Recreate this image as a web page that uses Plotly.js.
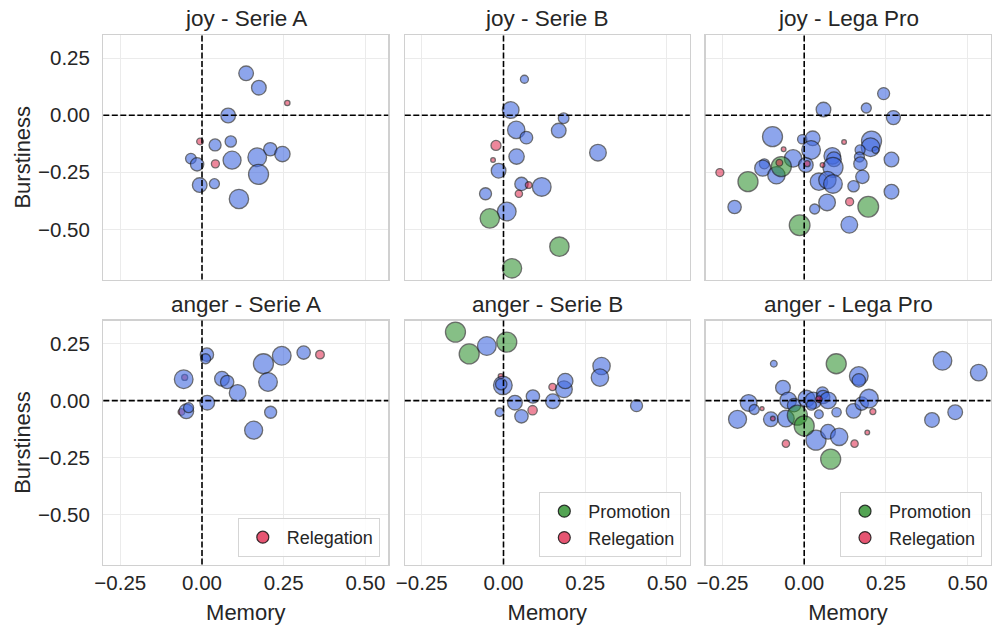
<!DOCTYPE html>
<html><head><meta charset="utf-8">
<script src="https://cdn.plot.ly/plotly-3.0.1.min.js"></script>
<style>html,body{margin:0;padding:0;background:#fff}#chart{width:992px;height:626px}</style>
</head><body><div id="chart"></div>
<script>
// ---- Data (Memory = x, Burstiness = y, volume = bubble size, group: S=stay, P=promotion, R=relegation)
const panelTitles = ["joy - Serie A", "joy - Serie B", "joy - Lega Pro", "anger - Serie A", "anger - Serie B", "anger - Lega Pro"];
const xTicks = [-0.25, 0, 0.25, 0.5];
const yTicks = [0.25, 0, -0.25, -0.5];

const joySerieA_memory = [0.135,0.174,0.080,0.040,0.088,0.209,0.246,0.169,0.092,-0.034,-0.015,0.173,-0.007,0.038,0.113,0.261,-0.006,0.041];
const joySerieA_burst  = [0.184,0.121,-0.001,-0.130,-0.115,-0.149,-0.170,-0.184,-0.197,-0.190,-0.215,-0.259,-0.306,-0.300,-0.367,0.054,-0.115,-0.213];
const joySerieA_volume = [22,22,22,18,17,20,23,28,27,16,20,30,22,15,29,8,10,12];
const joySerieA_group  = ["S","S","S","S","S","S","S","S","S","S","S","S","S","S","S","R","R","R"];

const joySerieB_memory = [0.064,0.022,0.184,0.039,0.070,0.169,0.289,0.040,-0.015,0.055,-0.023,-0.032,0.077,0.117,0.047,-0.055,0.010,-0.042,0.171,0.026];
const joySerieB_burst  = [0.158,0.023,-0.013,-0.064,-0.098,-0.067,-0.164,-0.181,-0.243,-0.301,-0.132,-0.196,-0.306,-0.314,-0.344,-0.344,-0.422,-0.452,-0.576,-0.671];
const joySerieB_volume = [12,25,16,26,19,22,25,23,22,20,15,7,10,28,11,18,28,29,29,29];
const joySerieB_group  = ["S","S","S","S","S","S","S","S","S","S","R","R","R","S","R","S","S","P","P","P"];

const joyLegaPro_memory = [0.243,0.190,0.059,0.273,-0.097,-0.006,0.026,0.021,0.206,0.203,0.171,0.218,-0.034,-0.122,-0.127,-0.085,0.005,0.086,0.091,0.088,0.169,0.172,0.267,0.178,0.151,0.045,0.071,0.088,-0.213,0.032,0.070,0.267,0.138,-0.070,-0.172,0.196,-0.014,-0.063,0.122,-0.076,0.009,0.056,-0.258,0.139];
const joyLegaPro_burst  = [0.095,0.032,0.025,-0.010,-0.094,-0.105,-0.101,-0.152,-0.113,-0.140,-0.152,-0.152,-0.189,-0.213,-0.232,-0.263,-0.218,-0.178,-0.193,-0.228,-0.183,-0.212,-0.194,-0.270,-0.311,-0.291,-0.284,-0.301,-0.402,-0.411,-0.382,-0.335,-0.480,-0.225,-0.291,-0.401,-0.482,-0.149,-0.117,-0.208,-0.212,-0.218,-0.251,-0.379];
const joyLegaPro_volume = [18,15,22,21,30,14,22,28,30,28,15,10,26,15,24,26,22,25,22,30,15,20,22,20,17,26,26,28,20,15,25,22,25,30,30,31,31,7,7,10,9,7,12,12];
const joyLegaPro_group  = ["S","S","S","S","S","S","S","S","S","S","S","S","S","S","S","S","S","S","S","S","S","S","S","S","S","S","S","S","S","S","S","S","S","P","P","P","P","R","R","R","R","R","R","R"];

const angerSerieA_memory = [-0.053,-0.063,0.015,0.011,-0.056,0.061,0.077,0.109,0.188,0.244,0.311,0.202,0.016,-0.048,-0.041,0.210,0.158,0.361];
const angerSerieA_burst  = [0.102,-0.050,0.202,0.184,0.094,0.096,0.082,0.034,0.162,0.197,0.211,0.082,-0.009,-0.047,-0.031,-0.051,-0.130,0.202];
const angerSerieA_volume = [9,10,20,15,28,22,20,25,30,28,20,28,22,22,15,18,27,13];
const angerSerieA_group  = ["R","R","S","S","S","S","S","S","S","S","S","S","S","S","S","S","S","R"];

const angerSerieB_memory = [-0.147,-0.105,0.010,-0.051,-0.008,0.150,-0.002,-0.007,0.035,-0.012,0.055,0.090,0.151,0.185,0.189,0.300,0.295,0.407,0.089];
const angerSerieB_burst  = [0.301,0.205,0.257,0.240,0.107,0.060,0.067,0.072,-0.009,-0.051,-0.069,0.018,-0.003,0.050,0.086,0.152,0.101,-0.022,-0.042];
const angerSerieB_volume = [30,30,30,28,8,11,28,17,22,13,20,20,22,25,23,26,26,18,14];
const angerSerieB_group  = ["P","P","P","S","R","R","S","S","S","S","S","S","S","S","S","S","S","S","R"];

const angerLegaPro_memory = [-0.093,0.167,0.167,0.423,0.534,-0.065,-0.170,-0.153,-0.204,-0.102,-0.056,-0.049,-0.031,0.007,0.028,0.056,0.058,0.073,0.022,0.045,0.099,0.036,0.073,0.107,0.151,0.176,0.198,0.391,0.462,0.098,-0.021,0.000,0.081,-0.129,-0.096,0.045,0.210,0.193,0.154,-0.056];
const angerLegaPro_burst  = [0.162,0.108,0.089,0.175,0.123,0.057,-0.010,-0.039,-0.082,-0.082,-0.079,0.001,-0.020,0.009,0.001,0.034,0.016,0.001,-0.020,-0.060,-0.051,-0.174,-0.137,-0.159,-0.045,-0.013,0.009,-0.085,-0.051,0.162,-0.064,-0.111,-0.257,-0.035,-0.079,0.006,-0.048,-0.140,-0.189,-0.189];
const angerLegaPro_volume = [10,28,20,28,25,22,25,15,27,22,25,25,20,25,25,18,20,25,15,13,14,30,22,26,22,20,28,22,22,30,30,30,30,6,7,10,9,7,11,11];
const angerLegaPro_group  = ["S","S","S","S","S","S","S","S","S","S","S","S","S","S","S","S","S","S","S","S","S","S","S","S","S","S","S","S","S","P","P","P","P","R","R","R","R","R","R","R"];

const groupNames = {P: "Promotion", R: "Relegation"};
const panelLegendGroups = [[], [], [], ["R"], ["P", "R"], ["P", "R"]];

// ---- Build
const panels = [
  [joySerieA_memory, joySerieA_burst, joySerieA_volume, joySerieA_group],
  [joySerieB_memory, joySerieB_burst, joySerieB_volume, joySerieB_group],
  [joyLegaPro_memory, joyLegaPro_burst, joyLegaPro_volume, joyLegaPro_group],
  [angerSerieA_memory, angerSerieA_burst, angerSerieA_volume, angerSerieA_group],
  [angerSerieB_memory, angerSerieB_burst, angerSerieB_volume, angerSerieB_group],
  [angerLegaPro_memory, angerLegaPro_burst, angerLegaPro_volume, angerLegaPro_group]
];
const COLORS = {S: "rgba(65,105,225,0.85)", P: "rgba(34,139,34,0.78)", R: "rgba(220,20,60,0.72)"};
const EDGE = "rgba(20,20,20,0.85)";
const W = 992, H = 626;
const colPx = [[103.3, 388.3], [404.8, 689.8], [705.5, 990.5]];
const rowPx = [[35, 279.5], [320.5, 564.5]];
const xRange = [-0.302, 0.570], yRange = [-0.72, 0.352];
const FONT = "Liberation Sans, Arial, sans-serif";
const TXT = "#262626";

const data = [], shapes = [], annotations = [];
const layout = {
  width: W, height: H, margin: {l: 0, r: 0, t: 0, b: 0},
  paper_bgcolor: "#fff", plot_bgcolor: "#fff",
  font: {family: FONT, color: TXT}, showlegend: true
};
const legendIds = {3: "legend", 4: "legend2", 5: "legend3"};

panels.forEach((p, i) => {
  const [mx, by, vol, grp] = p;
  const s = i === 0 ? "" : String(i + 1);
  const row = Math.floor(i / 3), col = i % 3;
  data.push({
    type: "scatter", mode: "markers", x: mx, y: by,
    xaxis: "x" + s, yaxis: "y" + s, showlegend: false, hoverinfo: "skip",
    marker: {size: vol, sizemode: "diameter", sizeref: 1.5,
             color: grp.map(g => COLORS[g]), line: {color: EDGE, width: 1.3}}
  });
  panelLegendGroups[i].forEach(g => {
    data.push({
      type: "scatter", mode: "markers", x: [null], y: [null],
      xaxis: "x" + s, yaxis: "y" + s, name: groupNames[g],
      legend: legendIds[i], showlegend: true,
      marker: {size: 12, color: COLORS[g], line: {color: EDGE, width: 1.2}}
    });
  });
  const xd = [colPx[col][0] / W, colPx[col][1] / W];
  const yd = [1 - rowPx[row][1] / H, 1 - rowPx[row][0] / H];
  layout["xaxis" + s] = {
    domain: xd, range: xRange, anchor: "y" + s, tickvals: xTicks, tickformat: ".2f",
    showticklabels: row === 1, ticks: "", showgrid: true, gridcolor: "#ebebeb", gridwidth: 1,
    zeroline: false, showline: true, mirror: true, linecolor: "#d0d0d0", linewidth: 1.3,
    tickfont: {size: 20.5, color: TXT, family: FONT},
    title: row === 1 ? {text: "Memory", font: {size: 22, color: TXT, family: FONT}, standoff: 11} : {text: ""}
  };
  layout["yaxis" + s] = {
    domain: yd, range: yRange, anchor: "x" + s, tickvals: yTicks, tickformat: ".2f",
    showticklabels: col === 0, ticks: "", showgrid: true, gridcolor: "#ebebeb", gridwidth: 1,
    zeroline: false, showline: true, mirror: true, linecolor: "#d0d0d0", linewidth: 1.3,
    tickfont: {size: 20.5, color: TXT, family: FONT}, ticklabelstandoff: 8,
    title: col === 0 ? {text: "Burstiness", font: {size: 22, color: TXT, family: FONT}, standoff: 1} : {text: ""}
  };
  shapes.push({type: "line", xref: "x" + s, yref: "y" + s + " domain", x0: 0, x1: 0, y0: 0, y1: 1,
               line: {color: "#000", width: 1.6, dash: "6px,2.5px"}});
  shapes.push({type: "line", xref: "x" + s + " domain", yref: "y" + s, x0: 0, x1: 1, y0: 0, y1: 0,
               line: {color: "#000", width: 1.6, dash: "6px,2.5px"}});
  annotations.push({text: panelTitles[i], xref: "paper", yref: "paper",
                    x: (xd[0] + xd[1]) / 2, y: yd[1], xanchor: "center", yanchor: "bottom", yshift: 2,
                    showarrow: false, font: {size: 22.5, color: TXT, family: FONT}});
  if (legendIds[i]) {
    layout[legendIds[i]] = {
      x: (colPx[col][1] - 8.5) / W, y: 1 - (rowPx[row][1] - 7.5) / H, xanchor: "right", yanchor: "bottom",
      bgcolor: "rgba(255,255,255,0.85)", bordercolor: "#d5d5d5", borderwidth: 1,
      font: {size: 18, color: TXT, family: FONT}, itemwidth: 38, tracegroupgap: 0
    };
  }
});
layout.shapes = shapes;
layout.annotations = annotations;

Plotly.newPlot("chart", data, layout, {staticPlot: true, displayModeBar: false});
</script>
</body></html>
